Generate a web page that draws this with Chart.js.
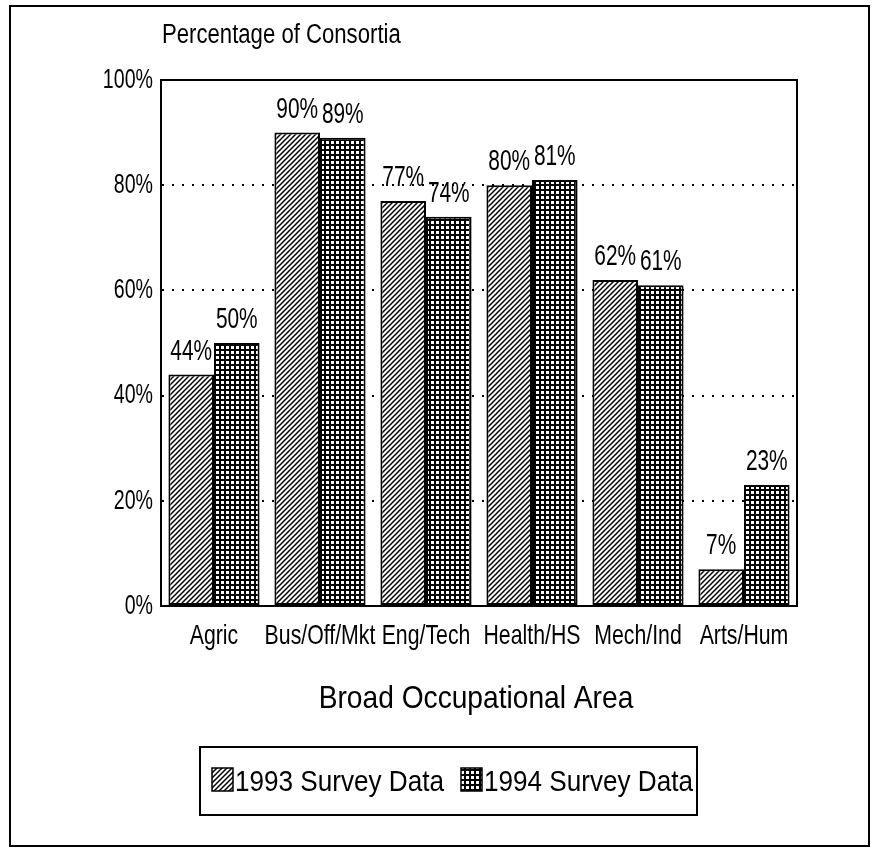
<!DOCTYPE html>
<html>
<head>
<meta charset="utf-8">
<script src="https://cdn.jsdelivr.net/npm/chart.js@4/dist/chart.umd.min.js"></script>
<style>
html,body{margin:0;padding:0;background:#fff;}
canvas{display:block;}
</style>
</head>
<body>
<canvas id="c" width="877" height="855"></canvas>
<script>
// ---- data ----
const categories = ['Agric', 'Bus/Off/Mkt', 'Eng/Tech', 'Health/HS', 'Mech/Ind', 'Arts/Hum'];
const survey1993 = [44, 90, 77, 80, 62, 7];
const survey1994 = [50, 89, 74, 81, 61, 23];
const seriesNames = ['1993 Survey Data', '1994 Survey Data'];
const yTickValues = [0, 20, 40, 60, 80, 100];
const chartTitle = 'Percentage of Consortia';
const xAxisTitle = 'Broad Occupational Area';

const FONT = '"Liberation Sans", Arial, sans-serif';

function hatchPattern() {
  const c = document.createElement('canvas');
  c.width = 5; c.height = 5;
  const g = c.getContext('2d');
  g.fillStyle = '#fff'; g.fillRect(0, 0, 5, 5);
  g.strokeStyle = '#000'; g.lineWidth = 1.5;
  g.beginPath();
  g.moveTo(-1, 6); g.lineTo(6, -1);
  g.moveTo(-1, 1); g.lineTo(1, -1);
  g.moveTo(4, 6); g.lineTo(6, 4);
  g.stroke();
  return g.createPattern(c, 'repeat');
}
function gridPattern() {
  const c = document.createElement('canvas');
  c.width = 5; c.height = 5;
  const g = c.getContext('2d');
  g.fillStyle = '#000'; g.fillRect(0, 0, 5, 5);
  g.fillStyle = '#fff'; g.fillRect(1, 1, 3, 3);
  return g.createPattern(c, 'repeat');
}
const patterns = [hatchPattern(), gridPattern()];

// draw horizontally condensed text
function condText(ctx, text, x, y, size, sx, align) {
  ctx.save();
  ctx.font = size + 'px ' + FONT;
  ctx.textAlign = align;
  ctx.translate(x, y);
  ctx.scale(sx, 1);
  ctx.fillText(text, 0, 0);
  ctx.restore();
}

// make the library's own tick labels horizontally condensed
function condenseScaleLabels(scale, sx) {
  if (!scale || scale._condPatched) return;
  const orig = scale.drawLabels.bind(scale);
  scale.drawLabels = function (area) {
    const ctx = this.ctx;
    const origRotate = ctx.rotate;
    ctx.rotate = function (r) { origRotate.call(this, r); this.scale(sx, 1); };
    try { orig(area); } finally { ctx.rotate = origRotate; }
  };
  scale._condPatched = true;
}

const deco = {
  id: 'deco',
  beforeDraw(chart) {
    condenseScaleLabels(chart.scales.x, 0.76);
    condenseScaleLabels(chart.scales.y, 0.7);
  },
  afterDatasetsDraw(chart) {
    const ctx = chart.ctx;
    ctx.save();
    ctx.fillStyle = '#000';
    ctx.textBaseline = 'alphabetic';
    chart.data.datasets.forEach((ds, di) => {
      chart.getDatasetMeta(di).data.forEach((bar, i) => {
        condText(ctx, ds.data[i] + '%', bar.x, bar.y - 15, 29, 0.72, 'center');
      });
    });
    ctx.restore();
  },
  afterDraw(chart) {
    const ctx = chart.ctx;
    const a = chart.chartArea;
    ctx.save();
    ctx.strokeStyle = '#000';
    ctx.lineWidth = 2;
    ctx.strokeRect(a.left, a.top, a.right - a.left, a.bottom - a.top);
    // outer frame
    ctx.strokeRect(10, 6, 859, 840);
    ctx.fillStyle = '#000';
    ctx.textBaseline = 'alphabetic';
    // title
    condText(ctx, chartTitle, 162, 43, 27, 0.82, 'left');
    // x axis title
    condText(ctx, xAxisTitle, 476, 708, 32, 0.88, 'center');
    // legend
    const lx = 200, ly = 747, lw = 497, lh = 68;
    ctx.lineWidth = 2;
    ctx.strokeRect(lx, ly, lw, lh);
    const items = [{ x: 212 }, { x: 461 }];
    items.forEach((it, k) => {
      ctx.fillStyle = patterns[k];
      ctx.fillRect(it.x, ly + 21, 21, 23);
      ctx.lineWidth = 1.5;
      ctx.strokeRect(it.x, ly + 21, 21, 23);
      ctx.fillStyle = '#000';
      condText(ctx, chart.data.datasets[k].label, it.x + 23, ly + 44, 30, 0.87, 'left');
    });
    ctx.restore();
  }
};

new Chart(document.getElementById('c'), {
  type: 'bar',
  data: {
    labels: categories,
    datasets: [
      { label: seriesNames[0], data: survey1993, backgroundColor: patterns[0], borderColor: '#000', borderWidth: 2, borderSkipped: false },
      { label: seriesNames[1], data: survey1994, backgroundColor: patterns[1], borderColor: '#000', borderWidth: 2, borderSkipped: false }
    ]
  },
  plugins: [deco],
  options: {
    responsive: false,
    animation: false,
    devicePixelRatio: 1,
    layout: { padding: { left: 0, right: 80, top: 80, bottom: 169 } },
    plugins: { legend: { display: false }, tooltip: { enabled: false } },
    datasets: { bar: { categoryPercentage: 0.86, barPercentage: 1 } },
    scales: {
      x: {
        grid: { display: false, drawTicks: false },
        border: { display: true, color: '#000', width: 2 },
        ticks: { color: '#000', font: { family: FONT, size: 28 }, padding: 13, maxRotation: 0, minRotation: 0, autoSkip: false },
        afterFit(s) { s.height = 80; }
      },
      y: {
        min: 0, max: 100,
        afterBuildTicks(s) { s.ticks = yTickValues.map(v => ({ value: v })); },
        grid: {
          drawTicks: false,
          lineWidth: 2,
          color: (c) => (c.tick && (c.tick.value === 0 || c.tick.value === 100)) ? 'rgba(0,0,0,0)' : '#000'
        },
        border: { display: true, color: '#000', width: 2, dash: [2, 8], dashOffset: 0 },
        ticks: { color: '#000', font: { family: FONT, size: 28 }, padding: 8, callback: (v) => v + '%' },
        afterFit(s) { s.width = 161; }
      }
    }
  }
});
</script>
</body>
</html>
